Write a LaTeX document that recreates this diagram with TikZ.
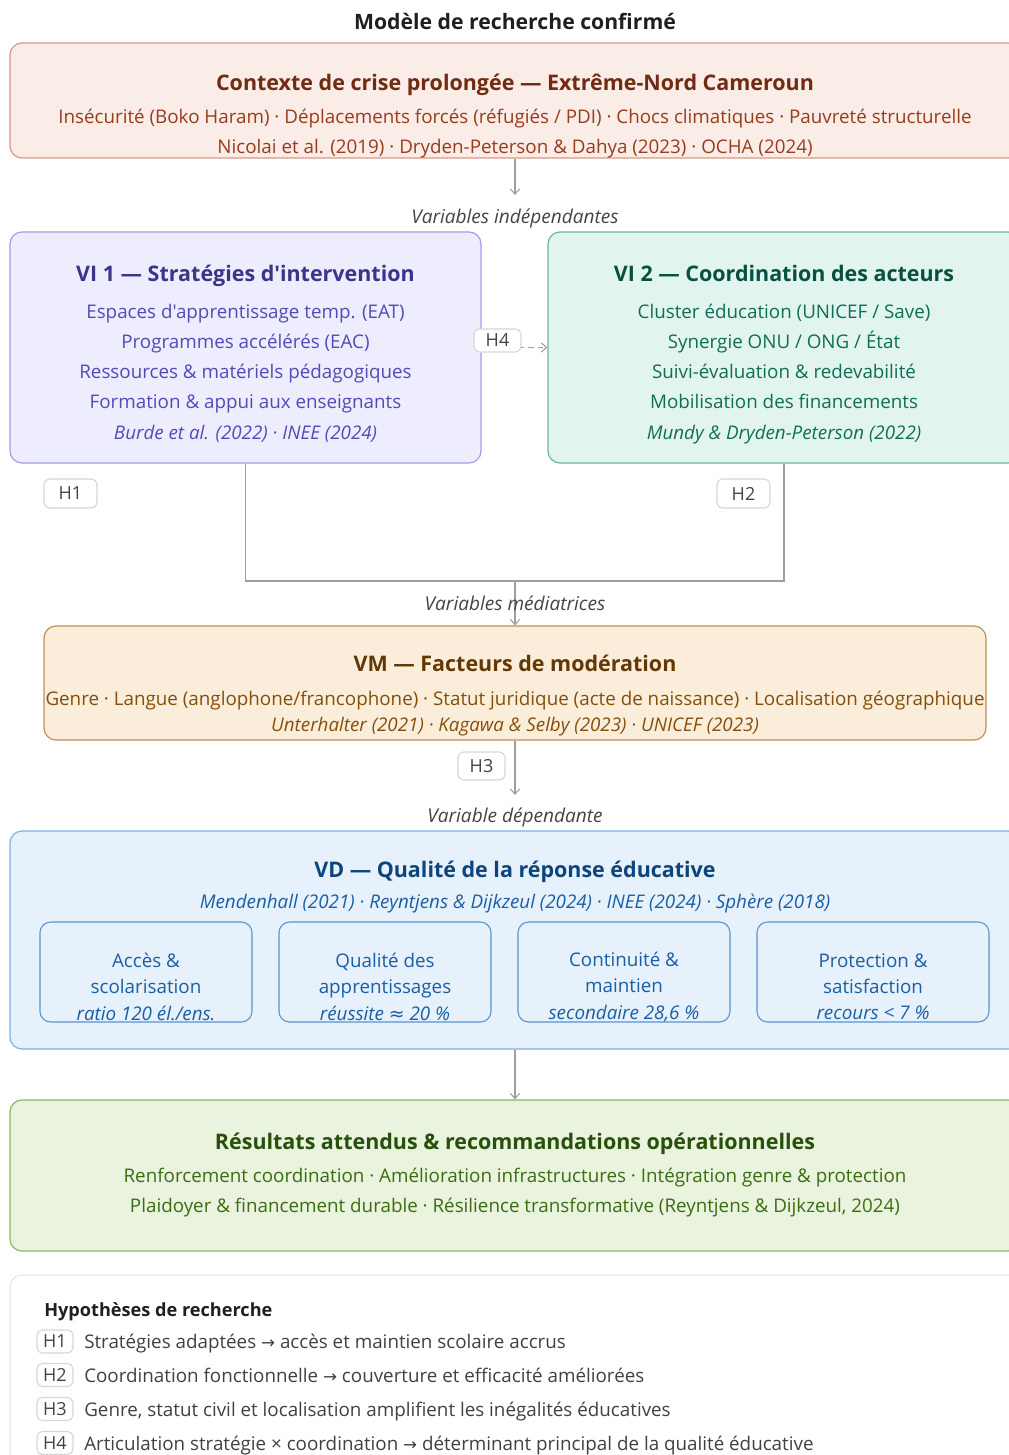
\documentclass[tikz,border=0pt]{standalone}
\usepackage{fontspec}
\setmainfont{Open Sans}[Ligatures=TeXOff]
\newfontfamily\symf{DejaVu Sans}
\usetikzlibrary{arrows.meta,fit}
\definecolor{ctxfill}{HTML}{FAECE7}\definecolor{ctxdraw}{HTML}{D49A84}
\definecolor{ctxtitle}{HTML}{712B13}\definecolor{ctxtext}{HTML}{993C1D}
\definecolor{vifill}{HTML}{EEEDFE}\definecolor{vidraw}{HTML}{A49CE6}
\definecolor{vititle}{HTML}{3C3489}\definecolor{vitext}{HTML}{534AB7}
\definecolor{cofill}{HTML}{E1F5EE}\definecolor{codraw}{HTML}{6DB79B}
\definecolor{cotitle}{HTML}{085041}\definecolor{cotext}{HTML}{0F6E56}
\definecolor{vmfill}{HTML}{FAEEDA}\definecolor{vmdraw}{HTML}{C09058}
\definecolor{vmtitle}{HTML}{633806}\definecolor{vmtext}{HTML}{854F0B}
\definecolor{vdfill}{HTML}{E6F1FB}\definecolor{vddraw}{HTML}{7FB0E3}
\definecolor{vdtitle}{HTML}{0C447C}\definecolor{vdtext}{HTML}{185FA5}
\definecolor{subdraw}{HTML}{5A93CF}
\definecolor{rsfill}{HTML}{EAF3DE}\definecolor{rsdraw}{HTML}{8DB765}
\definecolor{rstitle}{HTML}{27500A}\definecolor{rstext}{HTML}{3B6D11}
\definecolor{lnk}{HTML}{9E9E9E}\definecolor{lbl}{HTML}{444444}
\definecolor{badgedraw}{HTML}{D6D6D6}\definecolor{dark}{HTML}{1F1F1F}
\newcommand\rarr{{\symf\fontsize{12.5pt}{14pt}\selectfont →}}
\newcommand\approxsym{{\symf ≈}}
\begin{document}
\begin{tikzpicture}[x=0.75pt,y=-0.75pt,
  box/.style={rounded corners=9pt, line width=0.9pt, inner sep=0pt},
  txtb/.style={inner sep=0pt, yshift=-1.8pt, text height=10.6pt, text depth=3.4pt},
  body/.style={txtb, font=\fontsize{14.1pt}{17pt}\selectfont},
  itx/.style={txtb, font=\itshape\fontsize{14.1pt}{17pt}\selectfont},
  ttl/.style={inner sep=0pt, yshift=-1.8pt, text height=12.2pt, text depth=3.9pt, font=\bfseries\fontsize{16.1pt}{19pt}\selectfont},
  vlabel/.style={txtb, text=lbl, font=\itshape\fontsize{14.3pt}{17pt}\selectfont},
  link/.style={draw=lnk, line width=0.8pt},
  arr/.style={link, -{Straight Barb[length=4pt,width=7pt]}},
  badge/.style={draw=badgedraw, fill=white, rounded corners=4pt, line width=0.8pt, text=lbl, inner sep=0pt, font=\fontsize{13.5pt}{15pt}\selectfont},
  subbox/.style={rounded corners=8pt, draw=subdraw, line width=0.8pt, inner sep=0pt},
  subtxt/.style={inner sep=0pt, yshift=-0.2pt, text=vdtext, align=center, font=\fontsize{14.1pt}{19.8pt}\selectfont},
  legtxt/.style={txtb, yshift=0.4pt, anchor=west, text=dark!85, font=\fontsize{14.1pt}{17pt}\selectfont}
]
\clip (0,0) rectangle (1009,1455);
\fill[white] (0,0) rectangle (1009,1455);

% title
\node[ttl, text=dark, font=\bfseries\fontsize{15.9pt}{18pt}\selectfont] (title) at (515,22) {Modèle de recherche confirmé};

% context box
\node[box, draw=ctxdraw, fill=ctxfill, fit={(10,43) (1020,158)}] (ctx) {};
\node[ttl, text=ctxtitle] (ctxT) at (515,83) {Contexte de crise prolongée — Extrême-Nord Cameroun};
\node[body, text=ctxtext] (ctx1) at (515,116) {Insécurité (Boko Haram) · Déplacements forcés (réfugiés / PDI) · Chocs climatiques · Pauvreté structurelle};
\node[body, text=ctxtext] (ctx2) at (515,146) {Nicolai et al. (2019) · Dryden-Peterson \& Dahya (2023) · OCHA (2024)};

\coordinate (a1) at (515,195);
\draw[arr] (ctx.south) -- (a1);
\node[vlabel] (lvi) at (515,216) {Variables indépendantes};

% VI1
\node[box, draw=vidraw, fill=vifill, fit={(10,232) (481,463)}] (vi1) {};
\node[ttl, text=vititle] (vi1T) at (245.5,274) {VI 1 — Stratégies d'intervention};
\node[body, text=vitext] (vi1a) at (245.5,311) {Espaces d'apprentissage temp. (EAT)};
\node[body, text=vitext] (vi1b) at (245.5,341) {Programmes accélérés (EAC)};
\node[body, text=vitext] (vi1c) at (245.5,371) {Ressources \& matériels pédagogiques};
\node[body, text=vitext] (vi1d) at (245.5,401) {Formation \& appui aux enseignants};
\node[itx, text=vitext] (vi1e) at (245.5,432) {Burde et al. (2022) · INEE (2024)};

% VI2
\node[box, draw=codraw, fill=cofill, fit={(548,232) (1020,463)}] (vi2) {};
\node[ttl, text=cotitle] (vi2T) at (784,274) {VI 2 — Coordination des acteurs};
\node[body, text=cotext] (vi2a) at (784,311) {Cluster éducation (UNICEF / Save)};
\node[body, text=cotext] (vi2b) at (784,341) {Synergie ONU / ONG / État};
\node[body, text=cotext] (vi2c) at (784,371) {Suivi-évaluation \& redevabilité};
\node[body, text=cotext] (vi2d) at (784,401) {Mobilisation des financements};
\node[itx, text=cotext] (vi2e) at (784,432) {Mundy \& Dryden-Peterson (2022)};

% H4 dashed
\draw[arr, dashed, dash pattern=on 4pt off 3pt] (vi1.east) -- (vi2.west);
\node[badge, minimum width=35.25pt, minimum height=17.25pt] (h4) at (497.5,340.5) {H4};

% H1 / H2
\node[badge, minimum width=39.75pt, minimum height=21.75pt] (h1) at (70.5,493.5) {H1};
\node[badge, minimum width=39.75pt, minimum height=21.75pt] (h2) at (743.5,493.5) {H2};

% join
\coordinate (join) at (515,581);
\draw[link] (vi1.south) |- (join);
\draw[link] (vi2.south) |- (join);

% VM
\node[box, draw=vmdraw, fill=vmfill, fit={(44,626) (986,740)}] (vm) {};
\draw[arr] (join) -- (vm.north);
\node[vlabel] (lvm) at (515,603) {Variables médiatrices};
\node[ttl, text=vmtitle] (vmT) at (515,664) {VM — Facteurs de modération};
\node[body, text=vmtext] (vm1) at (515,698) {Genre · Langue (anglophone/francophone) · Statut juridique (acte de naissance) · Localisation géographique};
\node[itx, text=vmtext] (vm2) at (515,724) {Unterhalter (2021) · Kagawa \& Selby (2023) · UNICEF (2023)};

\coordinate (a3) at (515,795);
\draw[arr] (vm.south) -- (a3);
\node[badge, minimum width=35.25pt, minimum height=21pt] (h3) at (481.5,766) {H3};
\node[vlabel] (lvd) at (515,815) {Variable dépendante};

% VD
\node[box, draw=vddraw, fill=vdfill, fit={(10,831) (1020,1049)}] (vd) {};
\node[ttl, text=vdtitle] (vdT) at (515,870) {VD — Qualité de la réponse éducative};
\node[itx, text=vdtext] (vd1) at (515,901) {Mendenhall (2021) · Reyntjens \& Dijkzeul (2024) · INEE (2024) · Sphère (2018)};

\node[subbox, fit={(40,922) (252,1022)}] (s1) {};
\node[subbox, fit={(279,922) (491,1022)}] (s2) {};
\node[subbox, fit={(518,922) (730,1022)}] (s3) {};
\node[subbox, fit={(757,922) (989,1022)}] (s4) {};
\node[subtxt] (s1t) at (146,986.5) {Accès \&\\scolarisation\\\textit{ratio 120 él./ens.}};
\node[subtxt] (s2t) at (385,986.5) {Qualité des\\apprentissages\\\textit{réussite \approxsym{} 20 \%}};
\node[subtxt] (s3t) at (624,986.5) {Continuité \&\\maintien\\\textit{secondaire 28,6 \%}};
\node[subtxt] (s4t) at (873,986.5) {Protection \&\\satisfaction\\\textit{recours < 7 \%}};

% Results
\node[box, draw=rsdraw, fill=rsfill, fit={(10,1100) (1020,1251)}] (rs) {};
\draw[arr] (vd.south) -- (rs.north);
\node[ttl, text=rstitle] (rsT) at (515,1142) {Résultats attendus \& recommandations opérationnelles};
\node[body, text=rstext] (rs1) at (515,1175) {Renforcement coordination · Amélioration infrastructures · Intégration genre \& protection};
\node[body, text=rstext] (rs2) at (515,1205) {Plaidoyer \& financement durable · Résilience transformative (Reyntjens \& Dijkzeul, 2024)};

% Legend
\node[rounded corners=9pt, draw=black!10, line width=0.8pt, fill=white, inner sep=0pt, fit={(10,1275) (1020,1480)}] (leg) {};
\node[txtb, yshift=0.3pt, anchor=west, text=dark, font=\bfseries\fontsize{13.6pt}{16pt}\selectfont] (legT) at (44,1310) {Hypothèses de recherche};
\node[badge, minimum width=27pt, minimum height=17.25pt] (l1) at (55,1341.5) {H1};
\node[legtxt] (l1t) at (84,1342) {Stratégies adaptées \rarr{} accès et maintien scolaire accrus};
\node[badge, minimum width=27pt, minimum height=17.25pt] (l2) at (55,1375) {H2};
\node[legtxt] (l2t) at (84,1375.5) {Coordination fonctionnelle \rarr{} couverture et efficacité améliorées};
\node[badge, minimum width=27pt, minimum height=17.25pt] (l3) at (55,1409) {H3};
\node[legtxt] (l3t) at (84,1409.5) {Genre, statut civil et localisation amplifient les inégalités éducatives};
\node[badge, minimum width=27pt, minimum height=17.25pt] (l4) at (55,1443) {H4};
\node[legtxt] (l4t) at (84,1443.5) {Articulation stratégie × coordination \rarr{} déterminant principal de la qualité éducative};
\end{tikzpicture}
\end{document}
